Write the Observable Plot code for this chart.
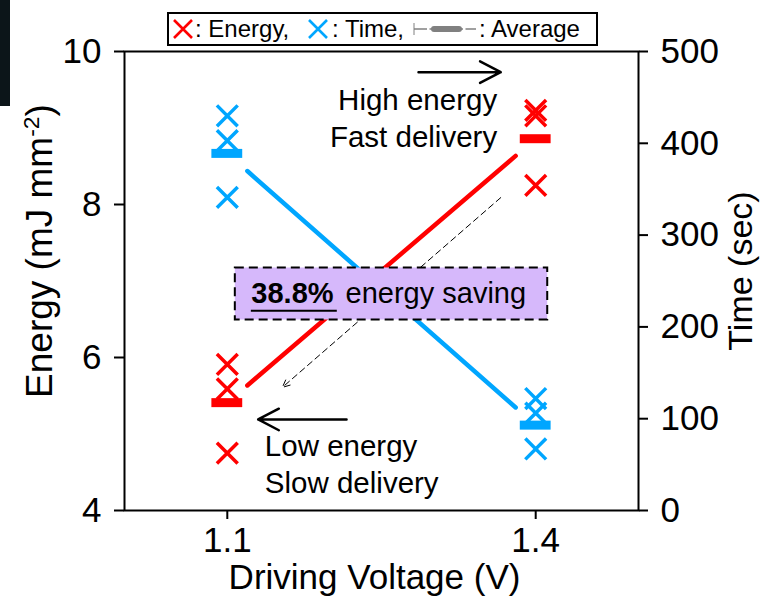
<!DOCTYPE html>
<html><head><meta charset="utf-8">
<script src="https://cdn.jsdelivr.net/npm/d3@7"></script>
<script src="https://cdn.jsdelivr.net/npm/@observablehq/plot@0.6"></script>
<style>
body{margin:0;background:#fff;font-family:"Liberation Sans",Arial,sans-serif;}
#wrap{position:relative;width:761px;height:600px;overflow:hidden;}
#legend{position:absolute;left:167px;top:12px;width:427px;height:30px;border:2px solid #000;background:#fff;font-size:24px;color:#000;}
#legend > *{position:absolute;top:50%;transform:translateY(-50%);white-space:nowrap;}
#legend svg{display:block;}
#strip{position:absolute;left:0;top:0;width:10px;height:106px;background:#0c1519;}
</style></head><body>
<div id="wrap"><div id="chart"></div><div id="strip"></div><div id="legend"></div></div>
<script>
// ---- data ----
const voltages = [1.1, 1.4];
const pointVoltage = [1.1, 1.1, 1.1, 1.4, 1.4, 1.4];
const energyValues = [5.91, 5.59, 4.75, 9.23, 9.16, 8.25];   // mJ mm^-2
const timeValues = [430, 403, 341, 122, 106, 67];           // sec
const energyAverage = [5.41, 8.86];
const timeAverage = [389, 93];
const energyTicks = [4, 6, 8, 10];
const timeTicks = [0, 100, 200, 300, 400, 500];
const xTicks = [1.1, 1.4];
const xLabel = "Driving Voltage (V)";
const yLabel = "Energy (mJ mm-2)";
const y2Label = "Time (sec)";
const savingPercent = "38.8%";
const savingText = "energy saving";
const highText = "High energy\nFast delivery";
const lowText = "Low energy\nSlow delivery";
const legendLabels = [": Energy,", ": Time,", ": Average"];

// ---- styling constants ----
const RED = "#ff0000", BLUE = "#00a6ff", PURPLE = "#d6b8fb";
const tMin = 0, tMax = 500, eMin = 4, eMax = 10;
const timeToE = t => eMin + (t - tMin) / (tMax - tMin) * (eMax - eMin);

const energyPts = pointVoltage.map((v, i) => ({v, y: energyValues[i]}));
const timePts = pointVoltage.map((v, i) => ({v, y: timeToE(timeValues[i])}));
const energyAvgPts = voltages.map((v, i) => ({v, y: energyAverage[i]}));
const timeAvgPts = voltages.map((v, i) => ({v, y: timeToE(timeAverage[i])}));

// trend lines between averages, trimmed at both ends
const trim = 0.065;
function trimmed(pts) {
  const [a, b] = pts;
  return [
    {v: a.v + (b.v - a.v) * trim, y: a.y + (b.y - a.y) * trim},
    {v: a.v + (b.v - a.v) * (1 - trim), y: a.y + (b.y - a.y) * (1 - trim)}
  ];
}
const energyLine = trimmed(energyAvgPts);
const timeLine = trimmed(timeAvgPts);

// annotation anchors (data coordinates)
const highAnno = [{v: 1.3625, y: 9.15}];
const lowAnno = [{v: 1.1365, y: 4.62}];
const rightArrow = [{x1: 1.286, x2: 1.366, y: 9.73}];
const leftArrow = [{x1: 1.216, x2: 1.130, y: 5.19}];
const dashArrow = [{x1: 1.366, y1: 8.09, x2: 1.1536, y2: 5.61}];
const savingBox = [{x1: 1.1078, x2: 1.4117, y1: 6.49, y2: 7.17}];

const font = "'Liberation Sans', Arial, sans-serif";

const chart = Plot.plot({
  width: 761, height: 600,
  marginLeft: 124, marginRight: 123, marginTop: 51, marginBottom: 90,
  x: {domain: [1.0, 1.5]},
  y: {domain: [eMin, eMax]},
  style: {fontFamily: font, fontSize: "34px", color: "black", background: "white", overflow: "visible"},
  marks: [
    // trend lines and dashed arrow (behind box)
    Plot.line(energyLine, {x: "v", y: "y", stroke: RED, strokeWidth: 4.5}),
    Plot.line(timeLine, {x: "v", y: "y", stroke: BLUE, strokeWidth: 4.5}),
    Plot.arrow(dashArrow, {x1: "x1", y1: "y1", x2: "x2", y2: "y2", stroke: "black", strokeWidth: 1, strokeDasharray: "6,4", headLength: 12, headAngle: 50}),
    // saving box
    Plot.rect(savingBox, {x1: "x1", x2: "x2", y1: "y1", y2: "y2", fill: PURPLE, stroke: "black", strokeWidth: 2, strokeDasharray: "9,5"}),
    Plot.text([savingPercent], {x: 1.1234, y: 6.83, text: d => d, textAnchor: "start", fontWeight: "bold", fontSize: 29}),
    Plot.ruleY([6.61], {x1: 1.1234, x2: 1.2070, stroke: "black", strokeWidth: 2}),
    Plot.text([savingText], {x: 1.2150, y: 6.83, text: d => d, textAnchor: "start", fontSize: 29}),
    // average bars
    Plot.ruleY(energyAvgPts, {x1: d => d.v - 0.015, x2: d => d.v + 0.015, y: "y", stroke: RED, strokeWidth: 9}),
    Plot.ruleY(timeAvgPts, {x1: d => d.v - 0.015, x2: d => d.v + 0.015, y: "y", stroke: BLUE, strokeWidth: 9}),
    // raw points
    Plot.dot(energyPts, {x: "v", y: "y", symbol: "times", r: 9.5, stroke: RED, strokeWidth: 3.5}),
    Plot.dot(timePts, {x: "v", y: "y", symbol: "times", r: 9.5, stroke: BLUE, strokeWidth: 3.5}),
    // annotations
    Plot.arrow(rightArrow, {x1: "x1", x2: "x2", y1: "y", y2: "y", stroke: "black", strokeWidth: 2.5, headLength: 14, headAngle: 55}),
    Plot.arrow(leftArrow, {x1: "x1", x2: "x2", y1: "y", y2: "y", stroke: "black", strokeWidth: 2.5, headLength: 14, headAngle: 55}),
    Plot.text(highAnno, {x: "v", y: "y", text: () => highText, textAnchor: "end", lineAnchor: "middle", lineHeight: 1.25, fontSize: 29.5}),
    Plot.text(lowAnno, {x: "v", y: "y", text: () => lowText, textAnchor: "start", lineAnchor: "middle", lineHeight: 1.25, fontSize: 29.5}),
    // frame and axes
    Plot.frame({stroke: "black", strokeWidth: 2}),
    Plot.axisY(energyTicks, {anchor: "left", tickSize: 10, tickPadding: 13, strokeWidth: 2, label: null, fontSize: 35, tickFormat: d => String(d)}),
    Plot.axisY(timeTicks.map(timeToE), {anchor: "right", tickSize: 9, tickPadding: 13, strokeWidth: 2, label: null, fontSize: 35,
      tickFormat: d => String(Math.round((d - eMin) / (eMax - eMin) * (tMax - tMin) + tMin))}),
    Plot.axisX(xTicks, {anchor: "bottom", tickSize: 9, tickPadding: 8, strokeWidth: 2, label: null, fontSize: 35, tickFormat: d => d.toFixed(1)}),
    // axis titles
    Plot.text([xLabel], {frameAnchor: "bottom", dy: 67, dx: -7, text: d => d, textAnchor: "middle", lineAnchor: "middle", fontSize: 35}),
    Plot.text([yLabel], {frameAnchor: "left", dx: -84, dy: -30, rotate: -90, text: d => d, textAnchor: "middle", lineAnchor: "middle", fontSize: 37}),
    Plot.text([y2Label], {frameAnchor: "right", dx: 103, dy: -10, rotate: -90, text: d => d, textAnchor: "middle", lineAnchor: "middle", fontSize: 34})
  ]
});
document.getElementById("chart").append(chart);

// superscript in the energy label
d3.select(chart).selectAll("text").each(function() {
  if (this.textContent === yLabel) {
    const t = d3.select(this);
    t.text(null);
    t.append("tspan").text("Energy (mJ mm");
    t.append("tspan").attr("baseline-shift", "super").attr("font-size", "62%").text("-2");
    t.append("tspan").text(")");
  }
});

// legend (positions relative to the legend box)
const legend = d3.select("#legend");
function cross(color, left) {
  const s = legend.append("svg").attr("width", 22).attr("height", 22).style("left", left + "px");
  s.append("path").attr("d", "M2,2L20,20M2,20L20,2").attr("stroke", color).attr("stroke-width", 2.6).attr("fill", "none");
}
cross(RED, 3);
legend.append("span").style("left", "26px").text(legendLabels[0]);
cross(BLUE, 138);
legend.append("span").style("left", "163px").text(legendLabels[1]);
const g = legend.append("svg").attr("width", 64).attr("height", 22).style("left", "244px");
g.append("line").attr("x1", 1).attr("x2", 1).attr("y1", 5).attr("y2", 17).attr("stroke", "#808080").attr("stroke-width", 1);
g.append("line").attr("x1", 1).attr("x2", 63).attr("y1", 11).attr("y2", 11).attr("stroke", "#808080").attr("stroke-width", 1.5);
g.append("line").attr("x1", 21).attr("x2", 46).attr("y1", 11).attr("y2", 11).attr("stroke", "#808080").attr("stroke-width", 6).attr("stroke-linecap", "round");
g.append("line").attr("x1", 14).attr("x2", 16.5).attr("y1", 11).attr("y2", 11).attr("stroke", "white").attr("stroke-width", 3);
g.append("line").attr("x1", 50).attr("x2", 52.5).attr("y1", 11).attr("y2", 11).attr("stroke", "white").attr("stroke-width", 3);
legend.append("span").style("left", "310px").text(legendLabels[2]);
</script>
</body></html>
